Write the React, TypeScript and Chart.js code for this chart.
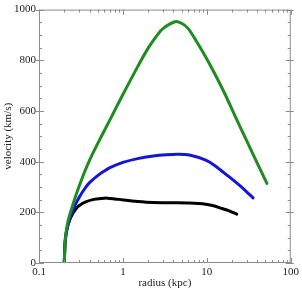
import React, { useEffect, useRef } from "react";
import { Chart, registerables } from "chart.js";

Chart.register(...registerables);

const greenR = [0.2, 0.205, 0.21, 0.22, 0.23, 0.25, 0.27, 0.3, 0.35, 0.4, 0.5, 0.7, 1, 1.5, 2, 2.55, 3, 4.17, 5, 6, 7.45, 9.7, 12.7, 16.6, 21.7, 32, 52];
const greenV = [0, 85, 120, 160, 185, 224, 259, 302, 360, 405, 471, 565, 665, 775, 848, 898, 925, 952, 946, 925, 877, 813, 741, 664, 580, 461, 314];

const blueR = [0.2, 0.205, 0.21, 0.22, 0.23, 0.25, 0.27, 0.3, 0.35, 0.4, 0.5, 0.6, 0.7, 1, 1.5, 2.3, 3.3, 4.5, 6.2, 9.7, 12, 15.2, 19, 23.8, 29, 35.5];
const blueV = [0, 80, 110, 145, 168, 203, 229, 258, 293, 317, 345, 363, 376, 397, 412, 422, 427, 429, 426, 406, 388, 362, 337, 310, 285, 257];

const blackR = [0.2, 0.203, 0.206, 0.21, 0.22, 0.23, 0.25, 0.274, 0.3, 0.36, 0.45, 0.56, 0.65, 0.8, 1, 1.5, 2.3, 4, 6.2, 8, 9.7, 12, 15.2, 19, 22.7];
const blackV = [0, 65, 95, 116, 148, 167, 192, 213, 226, 241, 251, 255, 256, 253, 249, 243, 239, 238, 237, 235, 232, 226, 215, 204, 193];

const xMajor = [0.1, 1, 10, 100];
const yMajor = [0, 200, 400, 600, 800, 1000];

const FONT = "'Liberation Serif', 'DejaVu Serif', serif";

const toPts = (r: number[], v: number[]) => r.map((x, i) => ({ x, y: v[i] }));

const framePlugin = {
  id: "frame",
  afterDraw(chart: any) {
    const { ctx, chartArea: a, scales } = chart;
    const xs = scales.x;
    const ys = scales.y;
    ctx.save();
    ctx.strokeStyle = "#8c8c8c";
    ctx.lineWidth = 1;
    ctx.strokeRect(a.left + 0.5, a.top + 0.5, a.right - a.left - 1, a.bottom - a.top - 1);
    ctx.beginPath();
    for (let d = 0.1; d < 100; d *= 10) {
      for (let k = 1; k <= 10; k++) {
        const v = d * k;
        if (v > 100.0001) continue;
        const px = Math.round(xs.getPixelForValue(v)) + 0.5;
        const major = k === 1 || k === 10;
        const len = major ? 5 : 3;
        ctx.moveTo(px, a.bottom);
        ctx.lineTo(px, a.bottom - len);
        ctx.moveTo(px, a.top);
        ctx.lineTo(px, a.top + len);
      }
    }
    for (let v = 0; v <= 1000; v += 50) {
      const py = Math.round(ys.getPixelForValue(v)) + 0.5;
      const major = v % 200 === 0;
      const len = major ? 5 : 3;
      ctx.moveTo(a.left - (major ? 3 : 0), py);
      ctx.lineTo(a.left + len, py);
      ctx.moveTo(a.right + (major ? 3 : 0), py);
      ctx.lineTo(a.right - len, py);
    }
    ctx.stroke();
    ctx.restore();
  },
};

export default function App() {
  const ref = useRef<HTMLCanvasElement | null>(null);

  useEffect(() => {
    if (!ref.current) return;
    const chart = new Chart(ref.current, {
      type: "line",
      data: {
        datasets: [
          { data: toPts(greenR, greenV), borderColor: "#1e8c1e" },
          { data: toPts(blueR, blueV), borderColor: "#1414dc" },
          { data: toPts(blackR, blackV), borderColor: "#000000" },
        ].map((d) => ({
          ...d,
          borderWidth: 3,
          pointRadius: 0,
          fill: false,
          tension: 0.3,
          borderJoinStyle: "round" as const,
          borderCapStyle: "round" as const,
        })),
      },
      options: {
        animation: false,
        responsive: false,
        maintainAspectRatio: false,
        layout: { padding: { top: 5, right: 5, left: 0, bottom: 0 } },
        plugins: { legend: { display: false }, tooltip: { enabled: false } },
        scales: {
          x: {
            type: "logarithmic",
            min: 0.1,
            max: 100,
            grid: { display: false, drawTicks: false },
            border: { display: false },
            afterFit: (s: any) => {
              s.height = 27;
            },
            afterBuildTicks: (s: any) => {
              s.ticks = xMajor.map((v) => ({ value: v }));
            },
            ticks: {
              autoSkip: false,
              maxRotation: 0,
              padding: 3,
              color: "#222",
              font: { family: FONT, size: 11 },
              callback: (v: any) => String(v),
            },
            title: {
              display: true,
              text: "radius (kpc)",
              color: "#222",
              font: { family: FONT, size: 11 },
              padding: 0,
            },
          },
          y: {
            type: "linear",
            min: 0,
            max: 1000,
            grid: { display: false, drawTicks: false },
            border: { display: false },
            afterFit: (s: any) => {
              s.width = 39;
            },
            afterBuildTicks: (s: any) => {
              s.ticks = yMajor.map((v) => ({ value: v }));
            },
            ticks: {
              autoSkip: false,
              padding: 3,
              color: "#222",
              font: { family: FONT, size: 11 },
              callback: (v: any) => String(v),
            },
            title: {
              display: true,
              text: "velocity (km/s)",
              color: "#222",
              font: { family: FONT, size: 11 },
              padding: { top: 2, bottom: 0 },
            },
          },
        },
      },
      plugins: [framePlugin],
    });
    return () => chart.destroy();
  }, []);

  return (
    <div style={{ position: "fixed", left: 0, top: 0, width: 302, height: 290, background: "#fff" }}>
      <canvas ref={ref} width={302} height={290} style={{ width: 302, height: 290 }} />
    </div>
  );
}
